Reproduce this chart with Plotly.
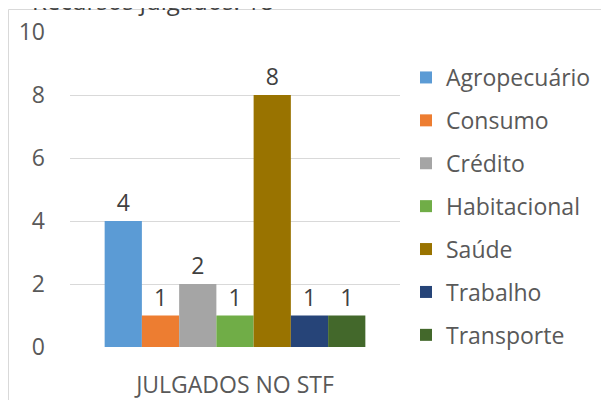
import plotly.graph_objects as go

categories = ["JULGADOS NO STF"]
series_names = ["Agropecuário", "Consumo", "Crédito", "Habitacional", "Saúde", "Trabalho", "Transporte"]
series_values = [4, 1, 2, 1, 8, 1, 1]
series_colors = ["#5B9BD5", "#ED7D31", "#A5A5A5", "#70AD47", "#997300", "#264478", "#43682B"]
y_ticks = [0, 2, 4, 6, 8, 10]
title_text = "Recursos julgados: 18"

FONT = "Open Sans"
FS = 23
fig = go.Figure()
for i, (name, val, col) in enumerate(zip(series_names, series_values, series_colors)):
    fig.add_trace(go.Bar(
        x=categories, y=[val], name=name, marker=dict(color=col, line=dict(width=0)),
        text=[str(val)], textposition="outside", cliponaxis=False,
        textfont=dict(family=FONT, size=FS, color="#404040"),
        legendgroup=f"g{i}",
    ))

# page body has an 8px default margin; compensate so the plot lands where wanted
OFF = 8
L, R, T, B = 70, 400, 32, 347   # page pixel positions of plot area
W, H = 609, 400
pw, ph = R - L, B - T
def px(x):
    return (x - L) / pw
def py(y):
    return (B - y) / ph

fig.update_layout(
    width=W - OFF, height=H - OFF,
    margin=dict(l=L - OFF, r=W - R, t=T - OFF, b=H - B, pad=0, autoexpand=False),
    paper_bgcolor="white", plot_bgcolor="white",
    barmode="group", bargap=0.21, bargroupgap=0,
    font=dict(family=FONT, color="#595959"),
    showlegend=True,
    legend=dict(
        x=px(406), y=py(56), xanchor="left", yanchor="top",
        font=dict(family=FONT, size=FS, color="#595959"),
        tracegroupgap=10, itemwidth=30, bgcolor="rgba(0,0,0,0)",
    ),
    xaxis=dict(
        showgrid=False, showline=False, zeroline=False, ticks="", automargin=False,
        tickfont=dict(family=FONT, size=FS, color="#595959"),
        ticklabelstandoff=22,
    ),
    yaxis=dict(
        range=[0, 10], tickvals=y_ticks, showgrid=True, gridcolor="#D9D9D9", gridwidth=1,
        showline=False, zeroline=False, ticks="", automargin=False,
        tickfont=dict(family=FONT, size=FS, color="#595959"),
        ticklabelstandoff=24,
    ),
    shapes=[dict(
        type="rect", xref="paper", yref="paper",
        x0=px(8.5), x1=px(640), y0=py(420), y1=py(9.5),
        line=dict(color="#D9D9D9", width=1), fillcolor="rgba(0,0,0,0)", layer="below",
    )],
    annotations=[dict(
        text=title_text, xref="paper", yref="paper", x=px(30), y=py(9), xanchor="left", yanchor="bottom",
        showarrow=False, font=dict(family=FONT, size=24, color="#404040"), yshift=-10,
    )],
)

fig.write_html("out.html")
